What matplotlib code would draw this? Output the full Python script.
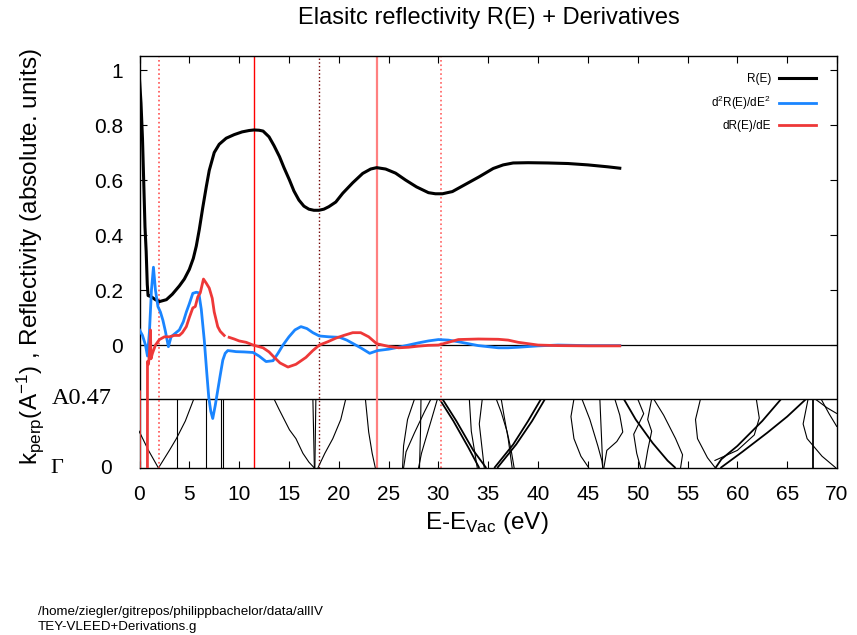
import numpy as np
import matplotlib
matplotlib.use('Agg')
import matplotlib.pyplot as plt

plt.rcParams['font.family'] = ['Liberation Sans', 'DejaVu Sans']
plt.rcParams['mathtext.default'] = 'regular'

# reflectivity R(E)
E_R = [0.0, 0.15, 0.3, 0.45, 0.55, 0.67, 0.78, 0.86, 1.0, 1.2, 1.6, 2.0, 2.7, 3.3, 4.0, 4.5,
       5.0, 5.4, 5.7, 6.0, 6.35, 6.7, 7.0, 7.5, 8.0, 8.7, 9.5, 10.3, 11.0, 11.5, 12.0, 12.4,
       13.0, 13.5, 14.05, 14.5, 15.05, 15.5, 16.0, 16.5, 17.0, 17.5, 18.0, 18.5, 19.0, 19.7,
       20.4, 21.4, 22.4, 23.2, 23.8, 24.7, 25.7, 26.7, 27.8, 29.0, 29.7, 30.4, 31.4, 32.5,
       34.1, 35.5, 36.5, 37.5, 39.0, 41.0, 43.0, 45.0, 47.0, 48.2]
R = [0.966, 0.88, 0.75, 0.56, 0.43, 0.34, 0.22, 0.18, 0.178, 0.175, 0.165, 0.158, 0.165, 0.185,
     0.215, 0.24, 0.275, 0.315, 0.36, 0.42, 0.50, 0.575, 0.635, 0.70, 0.73, 0.752, 0.765, 0.775,
     0.780, 0.782, 0.781, 0.778, 0.757, 0.725, 0.685, 0.645, 0.60, 0.56, 0.527, 0.505, 0.494,
     0.49, 0.49, 0.494, 0.503, 0.52, 0.552, 0.59, 0.624, 0.640, 0.645, 0.64, 0.625, 0.60, 0.575,
     0.554, 0.55, 0.55, 0.558, 0.58, 0.612, 0.642, 0.655, 0.662, 0.663, 0.662, 0.66, 0.655,
     0.648, 0.643]

# second derivative
E_D2 = [0.0, 0.3, 0.6, 0.8, 1.0, 1.2, 1.4, 1.6, 1.85, 2.1, 2.35, 2.6, 2.9, 3.17, 3.5, 4.0, 4.4,
        4.7, 5.0, 5.35, 5.7, 5.95, 6.2, 6.5, 6.75, 6.95, 7.15, 7.35, 7.6, 7.85, 8.1, 8.36, 8.6,
        8.86, 9.3, 9.7, 10.5, 11.4, 12.0, 12.7, 13.4, 13.9, 14.4, 15.0, 15.6, 16.2, 16.8, 17.4,
        18.05, 19.0, 20.1, 20.8, 21.4, 22.2, 23.1, 23.9, 25, 26, 27, 28, 29, 30, 31, 32, 33, 34,
        35, 36, 37, 38, 40, 42, 45, 48.2]
D2R = [0.055, 0.035, 0.0, -0.04, 0.05, 0.2, 0.283, 0.2, 0.14, 0.12, 0.09, 0.05, -0.006, 0.03,
       0.04, 0.055, 0.085, 0.12, 0.15, 0.188, 0.192, 0.19, 0.13, 0.018, -0.1, -0.19, -0.24,
       -0.267, -0.22, -0.165, -0.11, -0.055, -0.03, -0.02, -0.022, -0.024, -0.025, -0.027, -0.04,
       -0.06, -0.057, -0.03, 0.0, 0.03, 0.055, 0.067, 0.06, 0.045, 0.033, 0.03, 0.028, 0.018,
       0.006, -0.01, -0.03, -0.02, -0.015, -0.008, 0.0, 0.008, 0.015, 0.02, 0.018, 0.012, 0.005,
       -0.002, -0.006, -0.01, -0.01, -0.008, -0.003, 0.0, -0.002, -0.002]

# first derivative (gap near 8.7 eV)
E_D1 = [0.0, 0.02, 0.78, 0.8, 0.9, 1.0, 1.1, 1.15, 1.3, 1.6, 2.0, 2.5, 3.0, 3.5, 4.0, 4.3, 4.7,
        5.0, 5.35, 5.6, 5.85, 6.1, 6.42, 6.7, 7.0, 7.3, 7.5, 7.7, 7.85, 8.1, 8.5, np.nan, 9.0,
        9.5, 10.0, 10.7, 11.4, 12.4, 13.0, 13.4, 14.1, 14.9, 15.7, 16.7, 17.4, 18.05, 18.9, 19.7,
        20.5, 21.4, 22.2, 23.0, 23.8, 25, 26, 27, 28, 29, 30, 31, 32, 34, 36, 37, 38, 40, 42, 45,
        48.2]
D1R = [-0.17, -2.0, -2.0, -0.06, -0.07, -0.03, 0.055, -0.05, -0.03, 0.0, 0.02, 0.03, 0.03,
       0.035, 0.035, 0.045, 0.067, 0.1, 0.135, 0.14, 0.175, 0.19, 0.24, 0.225, 0.207, 0.17, 0.12,
       0.09, 0.067, 0.05, 0.035, np.nan, 0.028, 0.022, 0.015, 0.01, 0.0, -0.01, -0.025, -0.04,
       -0.065, -0.08, -0.07, -0.045, -0.02, 0.0, 0.012, 0.025, 0.035, 0.045, 0.045, 0.03, 0.005,
       -0.005, -0.01, -0.008, -0.004, -0.001, 0.0, 0.01, 0.02, 0.022, 0.021, 0.018, 0.01, 0.0,
       -0.002, -0.003, -0.003]

# marker energies
MARK_E = [2.0, 11.45, 18.0, 23.8, 30.3]
MARK_STYLE = [('#ff5050', ':', 1.2), ('#ff0000', '-', 1.0), ('#700000', ':', 1.0),
              ('#ff8080', '-', 1.6), ('#ff6060', ':', 1.2)]

# band structure k_perp(E), Gamma = 0 ... A = 0.47
K_A = 0.47
BANDS = [
    ([-0.5, 0.0, 0.9, 1.9], [0.30, 0.245, 0.12, 0.0]),
    ([1.9, 3.0, 3.7, 4.6, 5.45], [0.0, 0.12, 0.2, 0.32, 0.47]),
    ([3.74, 3.74], [0.0, 0.47]),
    ([6.72, 6.72], [0.0, 0.47]),
    ([8.2, 8.2], [0.0, 0.47]),
    ([8.35, 8.35], [0.0, 0.47]),
    ([13.5, 14.0, 15.05, 15.7, 16.4, 17.0, 17.55], [0.47, 0.40, 0.26, 0.20, 0.10, 0.04, 0.0]),
    ([17.4, 17.55], [0.47, 0.0]),
    ([17.7, 17.6], [0.47, 0.0]),
    ([17.9, 18.6, 19.4, 20.2, 20.7], [0.0, 0.1, 0.2, 0.33, 0.47]),
    ([22.67, 23.0, 23.35, 23.67], [0.47, 0.245, 0.1, 0.0]),
    ([26.4, 26.5, 26.9, 27.6], [0.0, 0.15, 0.33, 0.47]),
    ([26.5, 26.75, 27.6, 28.6, 29.25], [0.0, 0.11, 0.24, 0.383, 0.47]),
    ([28.0, 28.3, 28.6, 29.3, 29.9], [0.0, 0.1, 0.17, 0.33, 0.47]),
    ([28.1, 28.2, 28.25], [0.0, 0.25, 0.47]),
    ([30.1, 31.5, 33.0, 34.1], [0.47, 0.32, 0.14, 0.0]),
    ([30.4, 31.8, 33.5, 34.8], [0.47, 0.32, 0.12, 0.0]),
    ([33.1, 33.3, 33.9], [0.47, 0.25, 0.0]),
    ([34.4, 34.1, 34.6], [0.47, 0.3, 0.0]),
    ([35.6, 37.5, 39.0, 40.3], [0.0, 0.16, 0.32, 0.47]),
    ([35.9, 37.8, 39.4, 40.7], [0.0, 0.16, 0.32, 0.47]),
    ([35.8, 36.3, 36.9, 37.3, 37.6], [0.47, 0.38, 0.245, 0.12, 0.0]),
    ([36.3, 36.6, 37.0, 37.4], [0.47, 0.35, 0.2, 0.0]),
    ([43.6, 43.3, 43.6, 44.3, 45.1], [0.47, 0.35, 0.2, 0.08, 0.0]),
    ([44.4, 45.2, 46.0, 46.4, 46.5], [0.47, 0.33, 0.15, 0.05, 0.0]),
    ([46.2, 46.5], [0.47, 0.0]),
    ([47.7, 48.2, 48.5, 47.9, 46.9, 46.6], [0.47, 0.36, 0.245, 0.18, 0.12, 0.0]),
    ([48.6, 49.8, 51.5, 53.0, 53.8], [0.47, 0.33, 0.17, 0.05, 0.0]),
    ([50.0, 50.6, 49.6, 49.9, 50.3], [0.47, 0.37, 0.23, 0.1, 0.0]),
    ([51.4, 51.0, 51.4, 51.0, 50.7], [0.47, 0.33, 0.25, 0.12, 0.0]),
    ([51.6, 52.6, 53.8, 54.5, 54.3], [0.47, 0.36, 0.2, 0.09, 0.0]),
    ([56.3, 55.8, 56.0, 57.0, 57.8], [0.47, 0.33, 0.2, 0.07, 0.0]),
    ([57.8, 58.4, 60.0, 62.5, 64.4], [0.0, 0.06, 0.15, 0.32, 0.47]),
    ([58.3, 60.5, 63.0, 65.0, 66.9], [0.0, 0.11, 0.24, 0.35, 0.47]),
    ([61.9, 62.2, 61.7, 60.0, 57.7], [0.47, 0.34, 0.225, 0.12, 0.05]),
    ([67.55, 67.55], [0.0, 0.47]),
    ([67.1, 66.6, 67.0, 68.5, 69.9], [0.47, 0.3, 0.2, 0.08, 0.0]),
    ([67.8, 69.0, 70.0], [0.47, 0.41, 0.37]),
    ([68.4, 69.2, 70.0], [0.47, 0.37, 0.28]),
]
THICK = {15, 16, 19, 20, 27, 32, 33, 35}

fig = plt.figure(figsize=(8.57, 6.35), dpi=100)
ax = fig.add_axes([139.5 / 857, 1 - 468 / 635, 697.5 / 857, 412.3 / 635])
Y_GAMMA, Y_A = -0.447, -0.196
ax.set_xlim(0, 70)
ax.set_ylim(Y_GAMMA, 1.052)

# band structure panel in the lower strip
bx = ax.inset_axes([0, Y_GAMMA, 1, Y_A - Y_GAMMA], transform=ax.get_yaxis_transform())
bx.set_xlim(0, 70)
bx.set_ylim(0, K_A)
bx.axis('off')
bx.patch.set_alpha(0)
bx.set_zorder(0.5)
for i, (e, k) in enumerate(BANDS):
    bx.plot(e, k, color='black', lw=1.3 if i in THICK else 0.8, solid_capstyle='butt')

ax.axhline(0, color='black', lw=0.9, zorder=1)
ax.axhline(Y_A, color='black', lw=1.0, zorder=1)
for e, (c, ls, lw) in zip(MARK_E, MARK_STYLE):
    ax.axvline(e, color=c, ls=ls, lw=lw, zorder=1.5)

l1, = ax.plot(E_R, R, color='black', lw=2.2, label='R(E)', zorder=3)
l2, = ax.plot(E_D2, D2R, color='#1a85ff', lw=2.0, label='d$^2$R(E)/dE$^2$', zorder=3)
l3, = ax.plot(E_D1, D1R, color='#ee3838', lw=2.0, label='dR(E)/dE', zorder=3)

ax.legend(handles=[l1, l2, l3], loc='upper right', bbox_to_anchor=(0.97, 0.958),
          frameon=False, markerfirst=False, fontsize=8.5, handlelength=3.1,
          labelspacing=0.72, borderaxespad=0, borderpad=0, handletextpad=0.7)

ax.set_xticks(np.arange(0, 71, 5))
ax.set_yticks([0, 0.2, 0.4, 0.6, 0.8, 1.0])
ax.set_yticklabels(['0', '0.2', '0.4', '0.6', '0.8', '1'])
ax.tick_params(direction='in', top=True, right=True, length=5, width=0.8, labelsize=15)
ax.tick_params(axis='x', pad=12)
ax.tick_params(axis='y', pad=12)
for s in ax.spines.values():
    s.set_linewidth(1.0)

# band labels
lab_x = (112 - 139.5) / 697.5
ax.text(lab_x, Y_A, 'A0.47', transform=ax.get_yaxis_transform(), ha='right', va='center',
        fontsize=17.5, family=['Liberation Serif', 'DejaVu Serif'])
ax.text(lab_x, Y_GAMMA, '0', transform=ax.get_yaxis_transform(), ha='right', va='center',
        fontsize=15)
ax.text((50 - 139.5) / 697.5, Y_GAMMA, 'Γ', transform=ax.get_yaxis_transform(), ha='left',
        va='center', fontsize=16, family=['Liberation Serif', 'DejaVu Serif'])

fig.text(489 / 857, 1 - 18 / 635, 'Elasitc reflectivity R(E) + Derivatives',
         ha='center', va='center', fontsize=17)
fig.text(487 / 857, 1 - 523 / 635, 'E-E$_{Vac}$ (eV)', ha='center', va='center', fontsize=17.5)
fig.text(30 / 857, 1 - 257 / 635, 'k$_{perp}$(A$^{-1}$) , Reflectivity (absolute. units)',
         ha='center', va='center', rotation=90, fontsize=17.5)
fig.text(38 / 857, 1 - 612 / 635, '/home/ziegler/gitrepos/philippbachelor/data/allIV',
         ha='left', va='center', fontsize=9.6)
fig.text(38 / 857, 1 - 627 / 635, 'TEY-VLEED+Derivations.g', ha='left', va='center',
         fontsize=9.6)

fig.savefig('out.png', dpi=100)
